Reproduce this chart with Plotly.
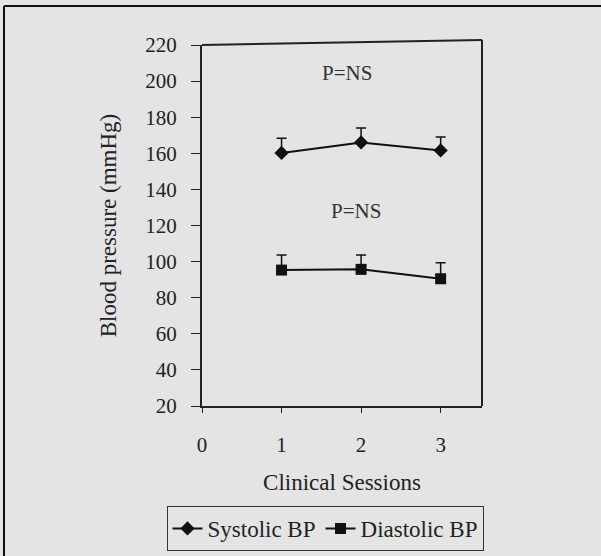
import plotly.graph_objects as go

sessions = [1, 2, 3]
systolic = [160.2, 166.0, 161.6]
systolic_err = [8.2, 8.0, 7.4]
diastolic = [95.3, 95.7, 90.5]
diastolic_err = [8.3, 7.9, 8.9]
y_ticks = [20, 40, 60, 80, 100, 120, 140, 160, 180, 200, 220]
x_ticks = [0, 1, 2, 3]
annotations_text = ["P=NS", "P=NS"]
annot_x = [1.82, 1.93]
annot_y = [204.4, 128.0]

FONT = "Liberation Serif, Times New Roman, serif"
BG = "#e4e4e4"
INK = "#222222"
FW, FH = 601, 556
L, R, T, B = 202, 482, 45, 406  # plot box in pixels


def px(x):
    return x / FW


def py(y):
    return (FH - y) / FH


fig = go.Figure()
fig.add_trace(go.Scatter(
    x=sessions, y=systolic, mode="lines+markers", name="Systolic BP",
    line=dict(color="#111111", width=2),
    marker=dict(symbol="diamond", size=11, color="#111111"),
    error_y=dict(type="data", symmetric=False, array=systolic_err,
                 arrayminus=[0, 0, 0], color="#111111", thickness=1.5, width=5),
))
fig.add_trace(go.Scatter(
    x=sessions, y=diastolic, mode="lines+markers", name="Diastolic BP",
    line=dict(color="#111111", width=2),
    marker=dict(symbol="square", size=11, color="#111111"),
    error_y=dict(type="data", symmetric=False, array=diastolic_err,
                 arrayminus=[0, 0, 0], color="#111111", thickness=1.5, width=5),
))

for t, ax, ay in zip(annotations_text, annot_x, annot_y):
    fig.add_annotation(x=ax, y=ay, text=t, showarrow=False,
                       font=dict(family=FONT, size=21, color="#333333"))

# plot-box top/right lines (slightly slanted as in the scan)
fig.add_shape(type="line", xref="paper", yref="paper", x0=px(L), y0=py(T), x1=px(R), y1=py(T - 5),
              line=dict(color=INK, width=2))
fig.add_shape(type="line", xref="paper", yref="paper", x0=px(R), y0=py(B), x1=px(R), y1=py(T - 5),
              line=dict(color=INK, width=2))
# outer frame (top and left edges)
fig.add_shape(type="line", xref="paper", yref="paper", x0=px(4), y0=py(6), x1=px(FW), y1=py(6),
              line=dict(color="#111111", width=2))
fig.add_shape(type="line", xref="paper", yref="paper", x0=px(4), y0=py(6), x1=px(4), y1=py(FH),
              line=dict(color="#111111", width=2))

fig.update_layout(
    width=FW, height=FH,
    margin=dict(l=0, r=0, t=0, b=0, autoexpand=False),
    paper_bgcolor=BG, plot_bgcolor=BG,
    font=dict(family=FONT, size=20, color=INK),
    showlegend=True,
    legend=dict(orientation="h", x=px(325), xanchor="center", y=py(506), yanchor="top",
                bordercolor="#333333", borderwidth=1, bgcolor=BG,
                font=dict(family=FONT, size=23, color=INK),
                tracegroupgap=0),
    xaxis=dict(domain=[px(L), px(R)], range=[0, 3.52], tickvals=x_ticks,
               ticktext=[str(v) for v in x_ticks],
               showgrid=False, zeroline=False, showline=True, linecolor=INK, linewidth=2,
               ticks="outside", ticklen=5, tickcolor=INK, ticklabelstandoff=14,
               tickfont=dict(family=FONT, size=21, color=INK),
               title=dict(text="Clinical Sessions", font=dict(family=FONT, size=23, color=INK),
                          standoff=18)),
    yaxis=dict(domain=[py(B), py(T)], range=[20, 220], tickvals=y_ticks, showgrid=False,
               zeroline=False, showline=True, linecolor=INK, linewidth=2,
               ticks="outside", ticklen=9, tickcolor=INK, ticklabelstandoff=10,
               tickfont=dict(family=FONT, size=21, color=INK),
               title=dict(text="Blood pressure (mmHg)", font=dict(family=FONT, size=23, color=INK),
                          standoff=22)),
)

fig.write_html("out.html")
